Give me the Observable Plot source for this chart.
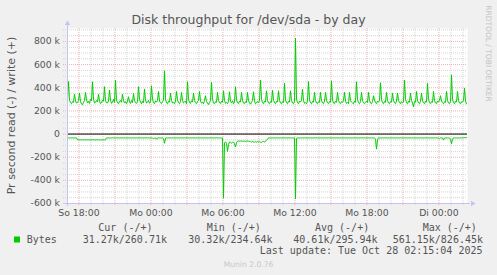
<!DOCTYPE html>
<html><head><meta charset="utf-8">
<script src="https://cdn.jsdelivr.net/npm/d3@7"></script>
<script src="https://cdn.jsdelivr.net/npm/@observablehq/plot@0.6"></script>
<style>
html,body{margin:0;padding:0;background:#f0f0f0;}
#wrap{position:relative;width:497px;height:275px;overflow:hidden;background:#f0f0f0;}
#wrap svg{position:absolute;left:0;top:0;}
</style></head><body><div id="wrap"></div>
<script>
const title = "Disk throughput for /dev/sda - by day";
const yLabel = "Pr second read (-) / write (+)";
const sideText = "RRDTOOL / TOBI OETIKER";
const footer = "Munin 2.0.76";
const xTickHours = [18, 24, 30, 36, 42, 48];
const xTickLabels = ["So 18:00", "Mo 00:00", "Mo 06:00", "Mo 12:00", "Mo 18:00", "Di 00:00"];
const yTickValues = [-600, -400, -200, 0, 200, 400, 600, 800];
const yTickLabels = ["-600 k", "-400 k", "-200 k", "0", "200 k", "400 k", "600 k", "800 k"];
const seriesName = "Bytes";
const legendHeaders = ["Cur (-/+)", "Min (-/+)", "Avg (-/+)", "Max (-/+)"];
const legendValues = ["31.27k/260.71k", "30.32k/234.64k", "40.61k/295.94k", "561.15k/826.45k"];
const lastUpdate = "Last update: Tue Oct 28 02:15:04 2025";
// time axis: hours since Sunday 00:00, samples every 5 minutes
const startHour = 17.05;
const stepHour = 5 / 60;
const endHour = startHour + 400 * stepHour;
// write (+) bytes per second, in k
const write = [
300,454,290,270,262,280,275,345,285,268, 272,290,354,280,260,253,275,290,360,295,
270,282,265,300,288,452,300,268,275,290, 278,345,285,262,270,295,283,409,290,270,
268,285,380,292,265,278,300,272,466,295, 270,262,283,290,275,345,290,268,280,262,
285,322,278,265,290,272,350,288,270,265, 280,409,300,276,262,285,270,390,295,268,
275,290,266,280,417,300,270,262,288,276, 290,368,285,270,265,280,292,547,300,270,
262,284,276,354,290,268,274,262,285,368, 295,270,262,280,360,290,268,276,285,262,
452,300,272,265,288,276,354,290,270,262, 280,292,368,285,268,275,262,290,331,280,
268,255,272,290,446,300,268,262,280,274, 360,290,270,262,285,275,374,290,265,272,
262,285,365,280,270,288,262,276,409,295, 270,262,285,276,360,290,268,262,280,272,
360,288,270,258,276,290,365,285,262,270, 282,268,290,466,300,272,262,285,276,374,
290,268,262,280,274,380,292,270,262,285, 276,374,290,268,262,280,272,440,295,270,
262,285,276,374,290,268,262,280,829,300, 272,262,285,276,290,389,288,265,272,262,
285,454,295,270,262,282,276,360,290,268, 262,280,274,360,288,270,262,285,360,292,
270,262,280,276,460,295,268,262,285,274, 360,290,270,262,280,272,288,360,285,265,
272,262,360,290,276,268,262,285,274,452, 300,270,262,280,360,288,270,262,276,285,
272,360,290,268,262,280,331,295,270,262, 285,276,290,443,300,270,262,282,274,360,
290,268,262,280,276,354,288,270,262,285, 354,290,272,262,280,268,276,466,300,270,
262,285,274,354,290,268,236,280,276,368, 290,270,262,282,354,288,270,262,285,276,
437,300,272,262,280,274,368,290,268,262, 285,276,290,331,285,270,262,280,274,368,
290,268,262,280,512,300,270,262,285,276, 368,290,268,262,280,276,288,397,285,261
];
// read (-) bytes per second, in k
const read = [
-33,-33,-34,-33,-33,-33,-34,-33,-33,-33, -50,-50,-51,-50,-50,-50,-50,-51,-50,-50,
-50,-50,-51,-50,-50,-50,-50,-50,-51,-50, -50,-50,-50,-51,-50,-50,-50,-50,-50,-33,
-33,-33,-34,-33,-33,-33,-33,-34,-33,-33, -33,-33,-33,-34,-33,-33,-33,-33,-33,-34,
-33,-33,-33,-33,-34,-33,-33,-33,-33,-33, -34,-33,-33,-33,-33,-33,-34,-33,-33,-33,
-33,-33,-33,-34,-33,-33,-42,-33,-33,-45, -33,-33,-33,-34,-33,-33,-40,-80,-35,-33,
-33,-33,-34,-33,-33,-33,-33,-33,-34,-33, -33,-33,-33,-33,-33,-34,-33,-33,-33,-33,
-33,-34,-33,-33,-33,-33,-33,-34,-33,-33, -33,-33,-33,-33,-34,-33,-33,-33,-33,-33,
-33,-34,-33,-33,-33,-33,-33,-33,-34,-33, -33,-33,-33,-33,-33,-34,-555,-75,-68,-80,
-150,-90,-68,-72,-78,-70,-72,-85,-112,-75, -62,-60,-62,-60,-60,-62,-62,-60,-64,-62,
-60,-62,-64,-65,-70,-63,-68,-72,-66,-70, -64,-68,-66,-70,-72,-66,-64,-68,-62,-55,
-45,-33,-33,-34,-33,-33,-33,-33,-34,-33, -33,-33,-33,-33,-34,-33,-33,-33,-33,-33,
-34,-33,-33,-33,-33,-33,-33,-33,-561,-36, -33,-33,-33,-34,-33,-33,-33,-33,-33,-34,
-33,-33,-33,-33,-33,-34,-33,-33,-33,-33, -33,-33,-34,-33,-33,-33,-33,-33,-33,-34,
-33,-33,-33,-33,-34,-33,-33,-33,-33,-33, -33,-34,-33,-33,-33,-33,-33,-33,-34,-33,
-33,-33,-33,-33,-33,-34,-33,-33,-33,-33, -33,-33,-34,-33,-33,-33,-33,-33,-33,-34,
-33,-33,-33,-33,-33,-33,-34,-33,-45,-130, -50,-33,-33,-33,-34,-33,-33,-33,-33,-33,
-33,-34,-33,-33,-33,-33,-33,-33,-34,-33, -33,-33,-33,-33,-33,-34,-33,-33,-33,-33,
-33,-33,-34,-33,-33,-33,-33,-33,-33,-34, -33,-33,-33,-33,-33,-33,-34,-33,-33,-33,
-33,-33,-33,-34,-33,-33,-33,-33,-33,-33, -34,-33,-40,-33,-33,-33,-52,-33,-33,-33,
-33,-33,-34,-45,-84,-45,-33,-33,-33,-33, -34,-33,-33,-33,-33,-33,-32,-31,-31,-31
];

const writeData = write.map((v, i) => ({t: startHour + i * stepHour, v}));
const readData = read.map((v, i) => ({t: startHour + i * stepHour, v}));

const minorY = d3.range(-550, 901, 50).filter(d => d % 200 !== 0);
const majorY = d3.range(-600, 801, 200);
const minorX = d3.range(18, 51, 1).filter(d => d % 3 !== 0);
const majorX = d3.range(18, 51, 3);

const green = "#00cc00";
const axisColor = "#c4c4ee";
const textColor = "#555555";

const chart = Plot.plot({
  width: 497, height: 275,
  marginLeft: 67, marginRight: 30, marginTop: 28, marginBottom: 72,
  style: {background: "transparent", fontFamily: "DejaVu Sans", fontSize: "9.3px", overflow: "visible"},
  x: {domain: [startHour, endHour], axis: null},
  y: {domain: [-600, 912], axis: null},
  marks: [
    Plot.frame({fill: "white", stroke: null}),
    Plot.ruleY(minorY, {stroke: "#d6d6d6", strokeDasharray: "1,1", insetLeft: -4}),
    Plot.ruleX(minorX, {stroke: "#d6d6d6", strokeDasharray: "1,1", insetBottom: -3}),
    Plot.ruleY(majorY, {stroke: "#eeb0b0", strokeDasharray: "1,1", insetLeft: -4}),
    Plot.ruleX(majorX, {stroke: "#eeb0b0", strokeDasharray: "1,1", insetBottom: -3}),
    Plot.ruleY([0], {stroke: "#000000", strokeWidth: 1}),
    Plot.line(writeData, {x: "t", y: "v", stroke: green, strokeWidth: 1}),
    Plot.line(readData, {x: "t", y: "v", stroke: green, strokeWidth: 1}),
    Plot.ruleX([startHour], {stroke: axisColor, insetTop: -4, insetBottom: -3}),
    Plot.ruleY([-600], {stroke: axisColor, insetLeft: -4, insetRight: -3}),
    Plot.dot([0], {x: () => startHour, y: () => 912, dy: -5, symbol: "triangle", r: 2, fill: axisColor, stroke: null}),
    Plot.dot([0], {x: () => endHour, y: () => -600, dx: 5, symbol: "triangle", r: 2, rotate: 90, fill: axisColor, stroke: null}),
    Plot.axisY(yTickValues, {tickSize: 0, tickPadding: 7.5, fontSize: 9.3, fill: textColor, label: null,
      tickFormat: d => yTickLabels[yTickValues.indexOf(d)]}),
    Plot.axisX(xTickHours, {tickSize: 0, tickPadding: 6, fontSize: 9.3, fill: textColor, label: null,
      tickFormat: d => xTickLabels[xTickHours.indexOf(d)]})
  ]
});
document.getElementById("wrap").appendChild(chart);

// Title, axis label, legend and footer
const svg = d3.select(chart);
const g = svg.append("g");
function addText(str, x, y, opts) {
  const t = g.append("text").attr("x", x).attr("y", y).text(str)
    .attr("font-family", opts.font || "DejaVu Sans")
    .attr("font-size", opts.size)
    .attr("fill", opts.color || textColor)
    .attr("text-anchor", opts.anchor || "start");
  if (opts.rotate) t.attr("transform", `rotate(${opts.rotate},${x},${y})`);
  return t;
}
addText(title, 248.5, 24, {size: "12.5px", anchor: "middle"});
addText(yLabel, 14.8, 115.5, {size: "11px", anchor: "middle", rotate: -90});
addText(sideText, 485.5, 53.5, {size: "7.5px", anchor: "middle", rotate: 90, color: "#c4c4c4"});
const mono = "DejaVu Sans Mono";
const headerX = [98.3, 206.7, 315, 422.7];
const valueX = [82.7, 188.3, 293.3, 392.7];
legendHeaders.forEach((h, i) => addText(h, headerX[i], 231, {size: "10px", font: mono}));
g.append("rect").attr("x", 14).attr("y", 236.5).attr("width", 6).attr("height", 6).attr("fill", green);
addText(seriesName, 26.7, 243, {size: "10px", font: mono});
legendValues.forEach((v, i) => addText(v, valueX[i], 243, {size: "10px", font: mono}));
addText(lastUpdate, 482.5, 254, {size: "10px", font: mono, anchor: "end"});
addText(footer, 248.5, 266.7, {size: "7.6px", anchor: "middle", color: "#c8c8c8"});
</script>
</body></html>
